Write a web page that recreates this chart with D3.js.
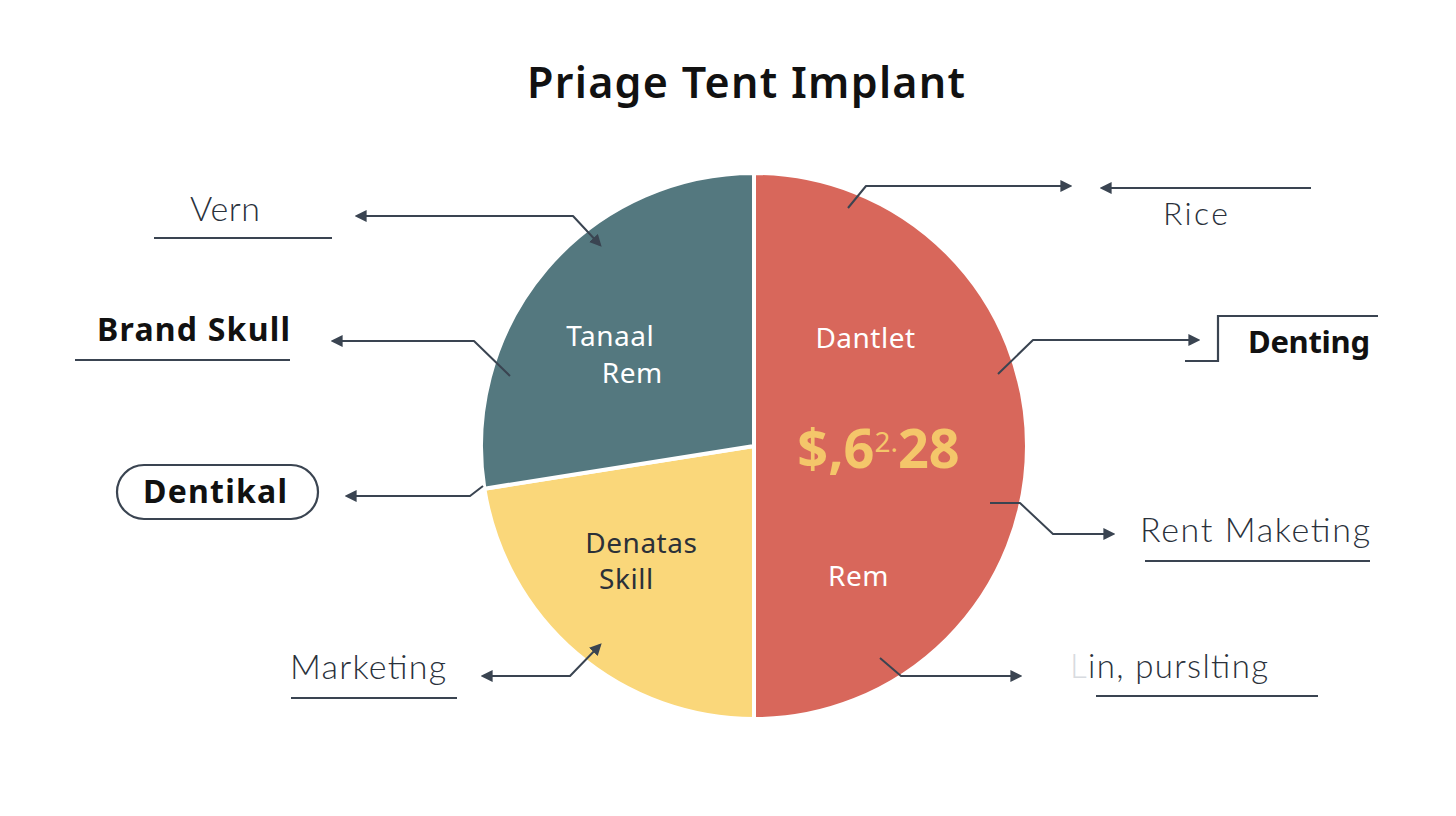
<!DOCTYPE html>
<html>
<head>
<meta charset="utf-8">
<script src="https://cdn.jsdelivr.net/npm/d3@7"></script>
<style>
  body { margin: 0; background: #ffffff; }
  svg { display: block; }
</style>
</head>
<body>
<svg id="chart" width="1456" height="816"></svg>
<script>
// chart data
var categories = ["Dantlet", "Denatas Skill", "Tanaal Rem"];
var values = [50, 22.5, 27.5];
var colors = ["#d8675b", "#fad77a", "#54787f"];
var valueLabel = ["$,6", "2.", "28"];

// text drawn inside each slice, one entry per line
var sliceText = [
    ["Dantlet", "Rem"],
    ["Denatas", "Skill"],
    ["Tanaal", "Rem"]
];

// callout labels around the pie
var calloutLabels = ["Vern", "Brand Skull", "Dentikal", "Marketing",
                     "Rice", "Denting", "Rent Maketing", "Lin, purslting"];

var svg = d3.select("#chart");
var cx = 754, cy = 446, R = 273;
var ink = "#3a4451";
var LIGHT = "Lato, 'Noto Sans', sans-serif";
var SANS = "'Noto Sans', 'Open Sans', sans-serif";

/*
 * Arrow markers
 */
var defs = svg.append("defs");
defs.append("marker")
    .attr("id", "arrow")
    .attr("viewBox", "0 0 10 10")
    .attr("refX", 8).attr("refY", 5)
    .attr("markerWidth", 6).attr("markerHeight", 6)
    .attr("markerUnits", "strokeWidth")
    .attr("orient", "auto-start-reverse")
  .append("path")
    .attr("d", "M0,0 L10,5 L0,10 Z")
    .attr("fill", ink);

/*
 * Title
 */
svg.append("text")
    .attr("x", 746).attr("y", 98)
    .attr("text-anchor", "middle")
    .style("font-family", SANS)
    .style("font-weight", 600)
    .style("font-size", "43px")
    .attr("textLength", 438)
    .attr("fill", "#111111")
    .text("Priage Tent Implant");

/*
 * Pie
 */
var pie = d3.pie().sort(null).value(function(d) { return d; });
var arc = d3.arc().innerRadius(0).outerRadius(R);
var arcs = pie(values);

var g = svg.append("g").attr("transform", "translate(" + cx + "," + cy + ")");
g.selectAll("path.slice")
    .data(arcs)
  .enter().append("path")
    .attr("class", "slice")
    .attr("d", arc)
    .attr("fill", function(d, i) { return colors[i]; })
    .attr("stroke", "#ffffff")
    .attr("stroke-width", 4)
    .attr("stroke-linejoin", "round");

// offsets of the inner text lines from the slice centroid
var lineOffsets = [
    [[-25, -106], [-32, 132]],
    [[-24, -4], [-39, 32]],
    [[-40, -19], [-18, 18]]
];
var innerColor = ["#ffffff", "#2b3038", "#ffffff"];

arcs.forEach(function(a, i) {
    var c = arc.centroid(a);
    sliceText[i].forEach(function(line, j) {
        g.append("text")
            .attr("x", c[0] + lineOffsets[i][j][0])
            .attr("y", c[1] + lineOffsets[i][j][1])
            .attr("text-anchor", "middle")
            .attr("dominant-baseline", "middle")
            .style("font-family", SANS)
            .style("font-size", "28px")
            .attr("letter-spacing", 0.5)
            .attr("fill", innerColor[i])
            .text(line);
    });
});

// big value on the red slice
var c0 = arc.centroid(arcs[0]);
var vt = g.append("text")
    .attr("x", c0[0] - 12).attr("y", c0[1] + 22)
    .attr("text-anchor", "middle")
    .style("font-family", SANS)
    .style("font-weight", 700)
    .style("font-size", "54px")
    .attr("fill", "#f4c66a");
vt.append("tspan").text(valueLabel[0]);
vt.append("tspan").style("font-size", "28px").style("font-weight", 400).attr("dy", -16).text(valueLabel[1]);
vt.append("tspan").attr("dy", 16).text(valueLabel[2]);

/*
 * Callouts: text, decoration and leader line
 */
var callouts = [
    { text: 0, x: 190, y: 221, size: 34, bold: false, width: 70, under: [154, 332, 238],
      line: [[600, 245], [573, 216], [357, 216]], start: true, end: true },
    { text: 1, x: 97, y: 341, size: 32, bold: true, width: 193, under: [75, 290, 360],
      line: [[510, 376], [474, 341], [333, 341]], end: true },
    { text: 2, x: 143, y: 503, size: 32, bold: true, width: 144, pill: [117, 465, 201, 54],
      line: [[483, 486], [470, 496], [347, 496]], end: true },
    { text: 3, x: 290, y: 679, size: 34, bold: false, width: 156, under: [291, 457, 698],
      line: [[483, 676], [570, 676], [600, 645]], start: true, end: true },
    { text: 4, x: 1163, y: 225, size: 32, bold: false, width: 65,
      line: [[848, 208], [866, 186], [1070, 186]], end: true,
      extra: [[1311, 188], [1102, 188]] },
    { text: 5, x: 1248, y: 353, size: 31, bold: true, width: 122,
      line: [[998, 374], [1033, 340], [1198, 340]], end: true,
      bracket: [[1185, 361], [1218, 361], [1218, 316], [1378, 316]] },
    { text: 6, x: 1140, y: 542, size: 34, bold: false, width: 230, under: [1145, 1370, 561],
      line: [[990, 503], [1020, 503], [1053, 534], [1113, 534]], end: true },
    { text: 7, x: 1070, y: 678, size: 33, bold: false, width: 198, under: [1096, 1318, 696], faded: true,
      line: [[880, 658], [901, 676], [1020, 676]], end: true }
];

var lineGen = d3.line();

callouts.forEach(function(co) {
    var label = calloutLabels[co.text];
    var t = svg.append("text")
        .attr("x", co.x).attr("y", co.y)
        .style("font-family", co.bold ? SANS : LIGHT)
        .style("font-size", co.size + "px")
        .style("font-weight", co.bold ? 700 : 300)
        .attr("textLength", co.width)
        .attr("lengthAdjust", "spacing")
        .attr("fill", co.bold ? "#111111" : "#2a313b");
    if (co.faded) {
        t.append("tspan").attr("fill", "#d8dbe0").text(label.charAt(0));
        t.append("tspan").text(label.slice(1));
    } else {
        t.text(label);
    }

    if (co.under)
        svg.append("line")
            .attr("x1", co.under[0]).attr("x2", co.under[1])
            .attr("y1", co.under[2]).attr("y2", co.under[2])
            .attr("stroke", ink).attr("stroke-width", 2.2);

    if (co.pill)
        svg.append("rect")
            .attr("x", co.pill[0]).attr("y", co.pill[1])
            .attr("width", co.pill[2]).attr("height", co.pill[3])
            .attr("rx", co.pill[3] / 2)
            .attr("fill", "none")
            .attr("stroke", ink).attr("stroke-width", 2.2);

    if (co.bracket)
        svg.append("path")
            .attr("d", lineGen(co.bracket))
            .attr("fill", "none")
            .attr("stroke", ink).attr("stroke-width", 2.2);

    var p = svg.append("path")
        .attr("d", lineGen(co.line))
        .attr("fill", "none")
        .attr("stroke", ink).attr("stroke-width", 2)
        .attr("stroke-linejoin", "round");
    if (co.end) p.attr("marker-end", "url(#arrow)");
    if (co.start) p.attr("marker-start", "url(#arrow)");

    if (co.extra)
        svg.append("path")
            .attr("d", lineGen(co.extra))
            .attr("fill", "none")
            .attr("stroke", ink).attr("stroke-width", 2)
            .attr("marker-end", "url(#arrow)");
});
</script>
</body>
</html>
